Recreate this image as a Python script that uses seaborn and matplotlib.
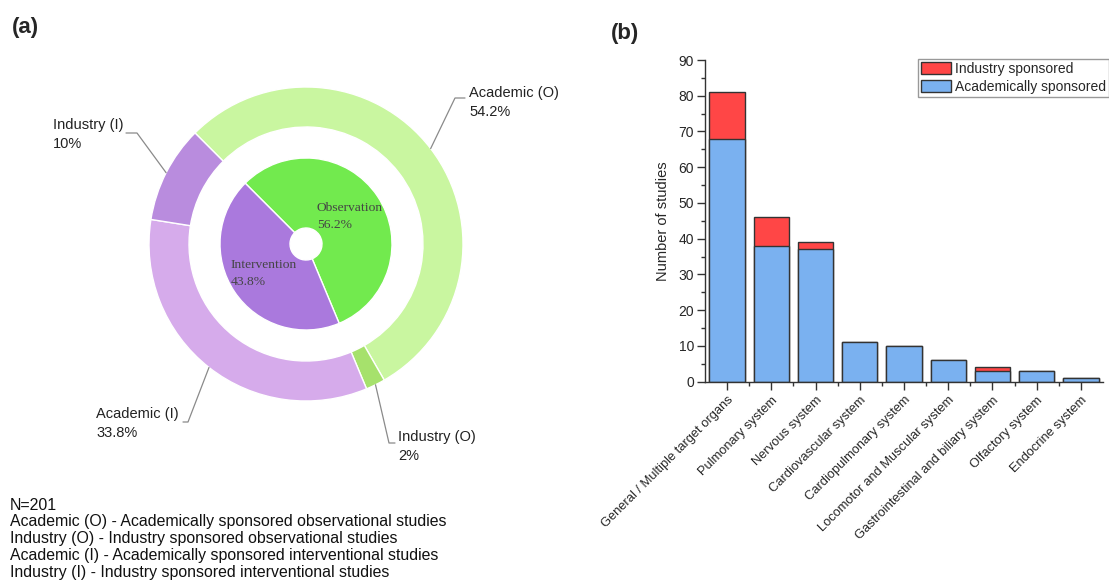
import numpy as np
import pandas as pd
import matplotlib
matplotlib.use("Agg")
import matplotlib.pyplot as plt
from matplotlib.patches import Patch
import seaborn as sns

# ---- data -------------------------------------------------------------
ring_labels = ["Academic (O)", "Industry (O)", "Academic (I)", "Industry (I)"]
ring_pct = [54.2, 2.0, 33.8, 10.0]
ring_colors = ["#c9f6a0", "#a6e16c", "#d6abeb", "#b98cde"]

core_labels = ["Observation", "Intervention"]
core_pct = [56.2, 43.8]
core_colors = ["#72ea4e", "#aa79dd"]

organs = ["General / Multiple target organs", "Pulmonary system", "Nervous system",
          "Cardiovascular system", "Cardiopulmonary system",
          "Locomotor and Muscular system", "Gastrointestinal and biliary system",
          "Olfactory system", "Endocrine system"]
academic = [68, 38, 37, 11, 10, 6, 3, 3, 1]
industry = [13, 8, 2, 0, 0, 0, 1, 0, 0]

notes = ["N=201",
         "Academic (O) - Academically sponsored observational studies",
         "Industry (O) - Industry sponsored observational studies",
         "Academic (I) - Academically sponsored interventional studies",
         "Industry (I) - Industry sponsored interventional studies"]

# ---- style ------------------------------------------------------------
sns.set_style("ticks")
plt.rcParams["font.family"] = ["Liberation Sans", "DejaVu Sans"]

W, H = 1109, 582
fig = plt.figure(figsize=(W / 100, H / 100), dpi=100)

# ---- (a) nested donut, axes in pixel units ----------------------------
axp = fig.add_axes([0, 0, 600 / W, 1])
cx, cy = 306, H - 244
R_out, ring_w = 157, 40
R_in, hole = 86, 16

axp.pie(ring_pct, radius=R_out, center=(cx, cy), startangle=135, counterclock=False,
        colors=ring_colors, wedgeprops=dict(width=ring_w, edgecolor="white", linewidth=1))
axp.pie(core_pct, radius=R_in, center=(cx, cy), startangle=135, counterclock=False,
        colors=core_colors, wedgeprops=dict(width=R_in - hole, edgecolor="white", linewidth=1))
axp.set_xlim(0, 600)
axp.set_ylim(0, H)
axp.set_aspect("equal", adjustable="box")
axp.axis("off")

# leader lines and outer labels
cum = np.cumsum([0] + ring_pct)
mids = [135 - 3.6 * (cum[i] + cum[i + 1]) / 2 for i in range(len(ring_pct))]
# elbow point and horizontal end of each leader (pixel coords, y down)
elbows = [(455, 98), (389, 443), (188, 422), (137, 133)]
ends = [(465, 98), (395, 443), (183, 422), (126, 133)]
text_x = [469, 398, 96, 53]
text_y = [93, 437, 414, 125]
for i, lab in enumerate(ring_labels):
    a = np.deg2rad(mids[i])
    sx, sy = cx + R_out * np.cos(a), cy + R_out * np.sin(a)
    ex, ey = elbows[i]
    fx, fy = ends[i]
    axp.plot([sx, ex, fx], [sy, H - ey, H - fy], color="#8a8a8a", lw=0.9)
    pct = f"{ring_pct[i]:g}%"
    axp.text(text_x[i], H - text_y[i], lab, fontsize=10.5, color="#222222",
             ha="left", va="center")
    axp.text(text_x[i], H - text_y[i] - 19, pct, fontsize=10.5, color="#222222",
             ha="left", va="center")

# inner labels
for lab, pct, (tx, ty) in zip(core_labels, core_pct, [(317, 208), (231, 265)]):
    axp.text(tx, H - ty, lab, fontsize=9.7, family=["Liberation Serif"], color="#444444",
             ha="left", va="center")
    axp.text(tx, H - ty - 17, f"{pct}%", fontsize=9.7, family=["Liberation Serif"],
             color="#444444", ha="left", va="center")

fig.text(12 / W, 1 - 27 / H, "(a)", fontsize=16, fontweight="bold", va="center", ha="left")
fig.text(611 / W, 1 - 33 / H, "(b)", fontsize=16, fontweight="bold", va="center", ha="left")

for k, line in enumerate(notes):
    fig.text(10 / W, 1 - (505 + 16.8 * k) / H, line, fontsize=11.4, color="#111111",
             va="center", ha="left")

# ---- (b) stacked bars -------------------------------------------------
axb = fig.add_axes([705 / W, 1 - 381.7 / H, (1103 - 705) / W, (381.7 - 60) / H])
df = pd.DataFrame({"organ": organs, "academic": academic, "industry": industry})
df["total"] = df["academic"] + df["industry"]

red, blue = "#ff4646", "#7ab1f0"
sns.barplot(data=df, x="organ", y="total", color=red, saturation=1, width=0.8,
            edgecolor="#333333", linewidth=1, ax=axb)
sns.barplot(data=df, x="organ", y="academic", color=blue, saturation=1, width=0.8,
            edgecolor="#333333", linewidth=1, ax=axb)

axb.set_xlim(-0.5, len(organs) - 0.5)
axb.set_ylim(0, 90)
axb.set_yticks(np.arange(0, 91, 10))
axb.set_yticks(np.arange(5, 90, 10), minor=True)
axb.set_xticks(np.arange(0.5, len(organs) - 0.5, 1), minor=True)
axb.set_xticks(range(len(organs)))
axb.set_xticklabels(organs, rotation=45, ha="right", rotation_mode="anchor", fontsize=9.3)
axb.tick_params(axis="y", labelsize=10, length=6, width=1, color="#333333", pad=2)
axb.tick_params(axis="x", length=6, width=1, color="#333333", pad=3)
axb.tick_params(which="minor", length=3, width=1, color="#333333")
axb.set_xlabel("")
axb.set_ylabel("Number of studies", fontsize=10.5, labelpad=6)
for s in ["left", "bottom"]:
    axb.spines[s].set_color("#333333")
    axb.spines[s].set_linewidth(1)
sns.despine(ax=axb)

handles = [Patch(facecolor=red, edgecolor="#333333", linewidth=1),
           Patch(facecolor=blue, edgecolor="#333333", linewidth=1)]
leg = axb.legend(handles, ["Industry sponsored", "Academically sponsored"],
                 loc="upper right", bbox_to_anchor=(1109 / W, 1 - 59 / H),
                 bbox_transform=fig.transFigure, fontsize=10, frameon=True,
                 fancybox=False, framealpha=1, edgecolor="#999999",
                 handlelength=2.2, handleheight=1.0, handletextpad=0.3,
                 labelspacing=0.3, borderpad=0.2, borderaxespad=0)
leg.get_frame().set_linewidth(1)

fig.savefig("out.png", dpi=100, facecolor="white")
